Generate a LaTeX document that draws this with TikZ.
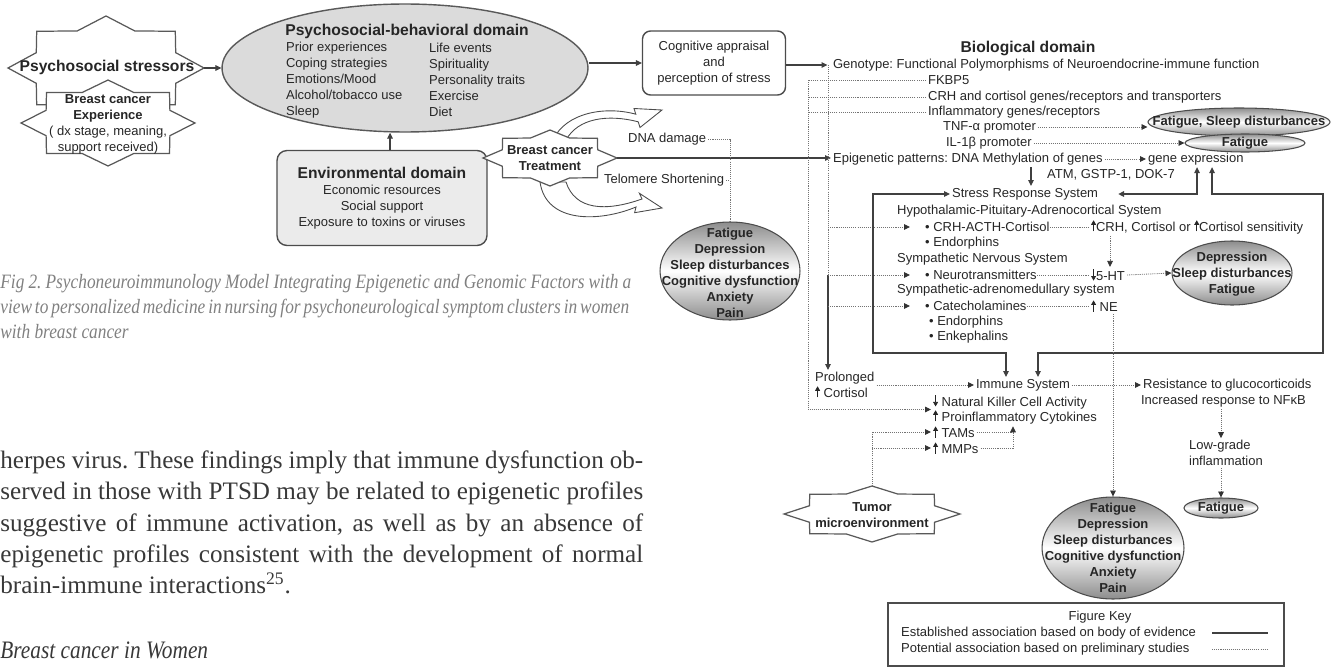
\documentclass[tikz,border=0pt]{standalone}
\usepackage{fontspec}
\setmainfont{Liberation Sans}
\newfontfamily\bodyfont{Liberation Serif}
\newfontfamily\capfont[FakeStretch=0.85]{Liberation Serif}
\usetikzlibrary{arrows.meta,shapes.geometric,calc}
\frenchspacing

\newcommand{\dgmfont}{\fontsize{7.4}{9.07}\selectfont}
\newcommand{\ttlfont}{\fontsize{8.9}{10.5}\selectfont\bfseries}
\newcommand{\upar}{\tikz[baseline=0pt]\draw[line width=0.45pt,-{Triangle[length=2.6pt,width=2.8pt]}] (0,0) -- (0,6.4pt);}
\newcommand{\dnar}{\tikz[baseline=0pt]\draw[line width=0.45pt,-{Triangle[length=2.6pt,width=2.8pt]}] (0,6.4pt) -- (0,0);}
\newcommand{\itm}{\hspace{8.4pt}\textbullet\ }
% eight-point burst: name, centre x, centre y, half width, half height
\newcommand{\burst}[5]{%
  \draw[burst] ({#2+#4},#3)
    \foreach \a in {0,45,...,315}{
      -- ({#2+0.77*#4*cos(\a+22.5)},{#3+0.77*#5*sin(\a+22.5)})
      -- ({#2+#4*cos(\a+45)},{#3+#5*sin(\a+45)})} -- cycle;
  \coordinate (#1-e) at ({#2+#4},#3);
  \coordinate (#1-w) at ({#2-#4},#3);
  \coordinate (#1-n) at (#2,{#3-#5});
}

\begin{document}
\begin{tikzpicture}[x=0.02cm, y=-0.02cm,
  lbl/.style={font=\dgmfont, text=black!85, inner sep=1pt, anchor=west},
  ttl/.style={font=\ttlfont, text=black!85, inner sep=1pt},
  bld/.style={font=\dgmfont\bfseries, text=black!85, inner sep=1pt, align=center},
  itembox/.style={lbl, inner xsep=0pt},
  burst/.style={draw=black!65, fill=white, line width=0.7pt, line join=miter},
  psyell/.style={ellipse, draw=black!65, fill=black!14, line width=0.8pt,
    minimum width=7.32cm, minimum height=2.56cm},
  envbox/.style={rectangle, rounded corners=0.2cm, draw=black!70, fill=black!8,
    line width=0.8pt, minimum width=4.2cm, minimum height=1.9cm,
    align=center, font=\dgmfont, text=black!85},
  cogbox/.style={rectangle, rounded corners=0.16cm, draw=black!70, line width=0.8pt,
    minimum width=2.86cm, minimum height=1.28cm, align=center, font=\dgmfont, text=black!85},
  symp/.style={ellipse, draw=black!70, line width=0.6pt, top color=black!45,
    bottom color=black!45, middle color=white, inner sep=0pt},
  keybox/.style={rectangle, draw=black!70, line width=0.9pt,
    minimum width=7.92cm, minimum height=1.26cm},
  blockarrow/.style={draw=black!70, fill=white, line width=0.5pt},
  arrow/.style={-{Triangle[length=3.4pt,width=3.2pt]}, draw=black!75, line width=0.6pt},
  biarrow/.style={{Triangle[length=3.4pt,width=3.2pt]}-{Triangle[length=3.4pt,width=3.2pt]},
    draw=black!75, line width=0.6pt},
  dotline/.style={draw=black!55, line width=0.45pt, dash pattern=on 0.6pt off 0.6pt},
  dotarrow/.style={dotline, -{Triangle[length=3.4pt,width=3.2pt,color=black!80]}},
  captxt/.style={anchor=base west, inner sep=0pt, text=black!50,
    font=\capfont\itshape\fontsize{11.6}{14}\selectfont},
  bodytxt/.style={anchor=base west, inner sep=0pt, text=black!78,
    font=\bodyfont\fontsize{14.3}{17.7}\selectfont}
]
\useasboundingbox (0,0) rectangle (1338,669);
\clip (0,0) rectangle (1338,669);

% Stressors and the psychosocial-behavioral domain.
\burst{str}{106}{68}{98}{52}
\burst{bce}{108}{123}{87}{43}
\node[ttl] (stressors) at (107,67) {Psychosocial stressors};
\node[font=\dgmfont, text=black!85, align=center, inner sep=1pt] (experience) at (108,124)
  {{\bfseries Breast cancer}\\{\bfseries Experience}\\( dx stage, meaning,\\support received)};
\node[psyell] (psy) at (405,68) {};
\node[ttl] (psytitle) at (407,31) {Psychosocial-behavioral domain};
\node[lbl, align=left] (psyleft) at (284,80)
  {Prior experiences\\Coping strategies\\Emotions/Mood\\Alcohol/tobacco use\\Sleep};
\node[lbl, align=left] (psyright) at (427,80)
  {Life events\\Spirituality\\Personality traits\\Exercise\\Diet};
\node[envbox] (env) at (382,198)
  {{\ttlfont Environmental domain}\\Economic resources\\Social support\\Exposure to toxins or viruses};
\node[cogbox] (cog) at (714,63) {Cognitive appraisal\\and\\perception of stress};

% Treatment and its effects.
\draw[blockarrow] (553,140) .. controls (566,112) and (606,106) .. (635.8,114.2)
  -- (634,108.5) -- (662,110) -- (640,127.5) -- (638.2,121.8)
  .. controls (608,114) and (578,118) .. (566,140) -- cycle;
\draw[blockarrow] (540,182) .. controls (546,224) and (600,222) .. (636,207)
  -- (634.6,212.7) -- (662,208) -- (639.4,193.3) -- (642,199)
  .. controls (605,212) and (575,210) .. (566,182) -- cycle;
\burst{trt}{550}{158}{67}{28}
\node[bld] (treatment) at (550,158) {Breast cancer\\Treatment};
\node[lbl] (dna) at (626,139) {DNA damage};
\node[lbl] (telo) at (602,180) {Telomere Shortening};
\node[symp, minimum width=2.8cm, minimum height=1.96cm] (fatcl) at (730,271) {};
\node[bld] at (730,273) {Fatigue\\Depression\\Sleep disturbances\\Cognitive dysfunction\\Anxiety\\Pain};

% Biological domain.
\node[ttl] (biotitle) at (1028,48) {Biological domain};
\node[lbl] (genotype) at (831,65) {Genotype: Functional Polymorphisms of Neuroendocrine-immune function};
\node[lbl] (fkbp) at (926,80) {FKBP5};
\node[lbl] (crhgenes) at (926,97) {CRH and cortisol genes/receptors and transporters};
\node[lbl] (inflam) at (926,112) {Inflammatory genes/receptors};
\node[lbl] (tnf) at (941,127) {TNF-α promoter};
\node[lbl] (il) at (944,143) {IL-1β promoter};
\node[symp, minimum width=3.64cm, minimum height=0.56cm] (fsd) at (1239,122) {};
\node[bld] at (fsd) {Fatigue, Sleep disturbances};
\node[symp, minimum width=2.4cm, minimum height=0.36cm] (fatone) at (1245,143) {};
\node[bld] at (fatone) {Fatigue};
\node[lbl] (epi) at (831,159) {Epigenetic patterns: DNA Methylation of genes};
\node[lbl] (geneexp) at (1146,159) {gene expression};
\node[lbl] (atm) at (1045,175) {ATM, GSTP-1, DOK-7};
\node[lbl] (stress) at (950,194) {Stress Response System};
\node[lbl] (hpa) at (895,211) {Hypothalamic-Pituitary-Adrenocortical System};
\node[itembox] (crhitem) at (910,227) {\itm CRH-ACTH-Cortisol};
\node[lbl] (upcrh) at (1089,227) {\upar CRH, Cortisol or \upar Cortisol sensitivity};
\node[itembox] (endoone) at (910,243) {\itm Endorphins};
\node[lbl] (sns) at (895,259) {Sympathetic Nervous System};
\node[itembox] (neuro) at (910,275) {\itm Neurotransmitters};
\node[lbl] (ht) at (1089,275) {\dnar 5-HT};
\node[lbl] (sam) at (895,290) {Sympathetic-adrenomedullary system};
\node[itembox] (cat) at (910,306) {\itm Catecholamines};
\node[lbl] (ne) at (1089,306) {\upar\ NE};
\node[itembox] (endotwo) at (914,322) {\itm Endorphins};
\node[itembox] (enk) at (914,337) {\itm Enkephalins};
\node[symp, minimum width=2.4cm, minimum height=1.28cm] (dep) at (1232,273) {};
\node[bld] at (1232,274) {Depression\\Sleep disturbances\\Fatigue};

% Immune system and symptom outcomes.
\node[lbl, align=left] (prolonged) at (813,385) {Prolonged\\\upar\ Cortisol};
\node[lbl] (immune) at (974,385) {Immune System};
\node[lbl] (resist) at (1141,385) {Resistance to glucocorticoids};
\node[lbl] (nfkb) at (1139,401) {Increased response to NFκB};
\node[lbl] (nk) at (931,402) {\dnar\ Natural Killer Cell Activity};
\node[lbl] (cyto) at (931,417) {\upar\ Proinflammatory Cytokines};
\node[lbl] (tams) at (931,432) {\upar\ TAMs};
\node[lbl] (mmps) at (931,448) {\upar\ MMPs};
\node[lbl, align=left] (lowgrade) at (1187,453) {Low-grade\\inflammation};
\node[symp, minimum width=1.48cm, minimum height=0.4cm] (fatthree) at (1221,508) {};
\node[bld] at (fatthree) {Fatigue};
\node[symp, minimum width=2.84cm, minimum height=2.04cm] (bigfat) at (1113,548) {};
\node[bld] at (1113,548) {Fatigue\\Depression\\Sleep disturbances\\Cognitive dysfunction\\Anxiety\\Pain};
\burst{tum}{872}{514}{88}{28}
\node[bld] (tumor) at (872,515) {Tumor\\microenvironment};

% Figure key.
\node[keybox] (key) at (1086,634.5) {};
\node[lbl, anchor=center] (keytitle) at (1100,617) {Figure Key};
\node[lbl] (estab) at (899,633) {Established association based on body of evidence};
\node[lbl] (potent) at (899,649) {Potential association based on preliminary studies};
\draw[draw=black!75, line width=0.6pt] (estab.east -| 1212,0) -- (estab.east -| 1268,0);
\draw[dotline] (potent.east -| 1212,0) -- (potent.east -| 1268,0);

% Psychosocial connectors.
\draw[arrow] (str-e) -- (psy.west);
\draw[arrow] (psy.east |- cog.west) -- (cog.west);
\coordinate (envtop) at ($(env.north)+(8,0)$);
\draw[arrow] (envtop) -- (envtop |- psy.south);
\draw[arrow, shorten >=2pt] (cog.east |- genotype.west) -- (genotype.west);
\draw[arrow] (trt-e) -- (trt-e -| epi.west);
\draw[dotline] (dna.east) -| (fatcl.north);
\draw[dotline] (telo.east) -- (telo.east -| fatcl.north);

% Genotype trunks.
\coordinate (gtrunk) at (828,65);
\coordinate (ltrunk) at (808,80);
\coordinate (nkcy) at ($(nk.west)!0.5!(cyto.west)$);
\draw[dotarrow] (fkbp.west) -- (ltrunk) -- (ltrunk |- nkcy) -- (nkcy);
\draw[dotline] (crhgenes.west) -- (ltrunk |- crhgenes.west);
\draw[dotline] (inflam.west) -- (ltrunk |- inflam.west);
\draw[dotline] (gtrunk) -- (gtrunk |- neuro.west);
\draw[arrow] (gtrunk |- neuro.west) -- (gtrunk |- prolonged.north);
\draw[dotarrow] (gtrunk |- crhitem.west) -- (crhitem.west);
\draw[dotarrow] (gtrunk |- neuro.west) -- (neuro.west);
\draw[dotarrow] (gtrunk |- cat.west) -- (cat.west);

% Gene expression and stress response loops.
\draw[dotarrow] (tnf.east) -- (tnf.east -| fsd.west);
\draw[dotarrow] (il.east) -- (il.east -| fatone.west);
\draw[dotarrow] (epi.east) -- (geneexp.west);
\draw[arrow] (epi.south -| 1031,0) -- (stress.north -| 1031,0);
\coordinate (srsright) at ($(stress.east)+(18,0)$);
\coordinate (lcorner) at (873,353);
\coordinate (rtop) at (1323,194);
\coordinate (rbot) at (1323,353);
\draw[biarrow] (stress.west) -| (lcorner) -| (immune.north -| 1006,0);
\draw[biarrow] (srsright) -| (geneexp.south -| 1197,0);
\draw[biarrow] (geneexp.south -| 1212,0) |- (rtop) -- (rbot) -| (immune.north -| 1038,0);

% Neuroendocrine outputs.
\draw[dotline] (crhitem.east) -- (upcrh.west);
\draw[dotarrow] (upcrh.south -| 1110,0) -- (ht.north -| 1110,0);
\draw[dotline] (neuro.east) -- (ht.west);
\draw[dotarrow] (ht.east) -- (dep.west);
\draw[dotline] (cat.east) -- (ne.west);
\draw[dotarrow] (ne.south -| bigfat.north) -- (bigfat.north);

% Immune connectors.
\draw[dotarrow] (prolonged.east) -- (immune.west);
\draw[dotarrow] (immune.east) -- (resist.west);
\draw[dotarrow] (nfkb.south -| 1221,0) -- (lowgrade.north -| 1221,0);
\draw[dotarrow] (lowgrade.south -| 1221,0) -- (fatthree.north);
\draw[dotline] (tams.east) -- (tams.east -| 1013,0);
\draw[dotarrow] (mmps.east) -| (cyto.south -| 1013,0);
\draw[dotarrow] (tum-n) |- (tams.west);
\draw[dotarrow] (tum-n |- mmps.west) -- (mmps.west);

% Caption and running text.
\node[captxt] (capone) at (0,288) {\makebox[12.62cm][s]{Fig 2. Psychoneuroimmunology Model Integrating Epigenetic and Genomic Factors with a}};
\node[captxt] (captwo) at (0,313) {\makebox[12.58cm][s]{view to personalized medicine in nursing for psychoneurological symptom clusters in women}};
\node[captxt] (capthree) at (0,338) {with breast cancer};
\node[bodytxt] (bodyone) at (0,468) {\makebox[12.86cm][s]{herpes virus. These findings imply that immune dysfunction ob-}};
\node[bodytxt] (bodytwo) at (0,499.5) {\makebox[12.86cm][s]{served in those with PTSD may be related to epigenetic profiles}};
\node[bodytxt] (bodythree) at (0,531) {\makebox[12.86cm][s]{suggestive of immune activation, as well as by an absence of}};
\node[bodytxt] (bodyfour) at (0,562) {\makebox[12.86cm][s]{epigenetic profiles consistent with the development of normal}};
\node[bodytxt] (bodyfive) at (0,593.5) {brain-immune interactions\textsuperscript{25}.};
\node[captxt, text=black!78, font=\capfont\itshape\fontsize{14.3}{17.7}\selectfont] (section) at (0,658) {Breast cancer in Women};

\end{tikzpicture}
\end{document}
